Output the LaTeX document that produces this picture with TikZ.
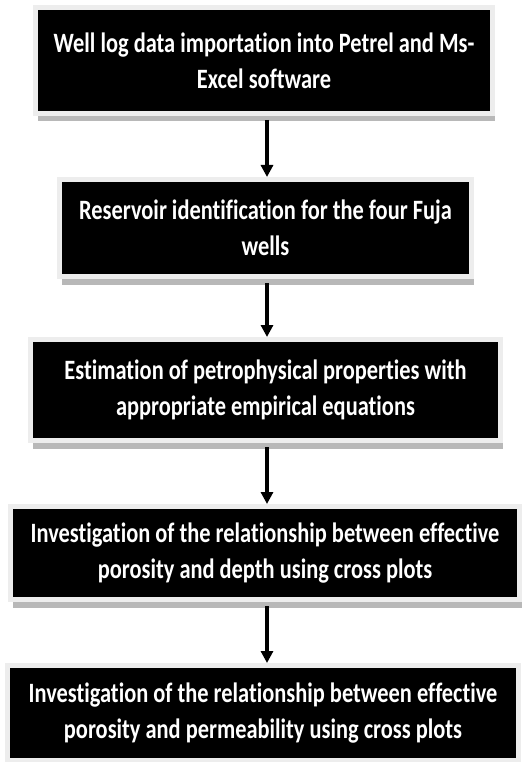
\documentclass[tikz,border=0pt]{standalone}
\usepackage{fontspec}
\setmainfont{Carlito}[FakeStretch=0.8, Ligatures=NoCommon]
\usetikzlibrary{arrows.meta,shadows}

\tikzset{
  stepbox/.style={fill=black, draw=black!7, line width=5pt, text=white,
    font=\bfseries\fontsize{28}{36}\selectfont, align=center, inner sep=0pt,
    drop shadow={shadow xshift=2pt, shadow yshift=-8pt, fill=black!28, opacity=1}},
  flow/.style={line width=3.5pt, -{Triangle[width=12pt,length=12pt]}}
}

\begin{document}
\begin{tikzpicture}[x=1pt,y=-1pt]
                \useasboundingbox (0,0) rectangle (526,762);
                % Boxes
                \node[stepbox, minimum width=457pt, minimum height=106pt] (import) at (264,60.5)
                  {Well log data importation into Petrel and Ms-\\Excel software};
                \node[stepbox, minimum width=412pt, minimum height=97pt] (reservoir) at (265.5,228)
                  {Reservoir identification for the four Fuja\\wells};
                \node[stepbox, minimum width=470pt, minimum height=101pt] (estimate) at (265.5,390)
                  {Estimation of petrophysical properties with\\appropriate empirical equations};
                \node[stepbox, minimum width=509pt, minimum height=93pt] (depth) at (265,553)
                  {Investigation of the relationship between effective\\porosity and depth using cross plots};
                \node[stepbox, minimum width=511pt, minimum height=95pt] (perm) at (263,713)
                  {Investigation of the relationship between effective\\porosity and permeability using cross plots};
                
                % Arrows
                \coordinate (axis) at (267,0);
                \draw[flow, shorten <=4pt] (import.south -| axis) -- (reservoir.north -| axis);
                \draw[flow, shorten <=4pt] (reservoir.south -| axis) -- (estimate.north -| axis);
                \draw[flow, shorten <=4pt] (estimate.south -| axis) -- (depth.north -| axis);
                \draw[flow, shorten <=4pt] (depth.south -| axis) -- (perm.north -| axis);
              \end{tikzpicture}
\end{document}
